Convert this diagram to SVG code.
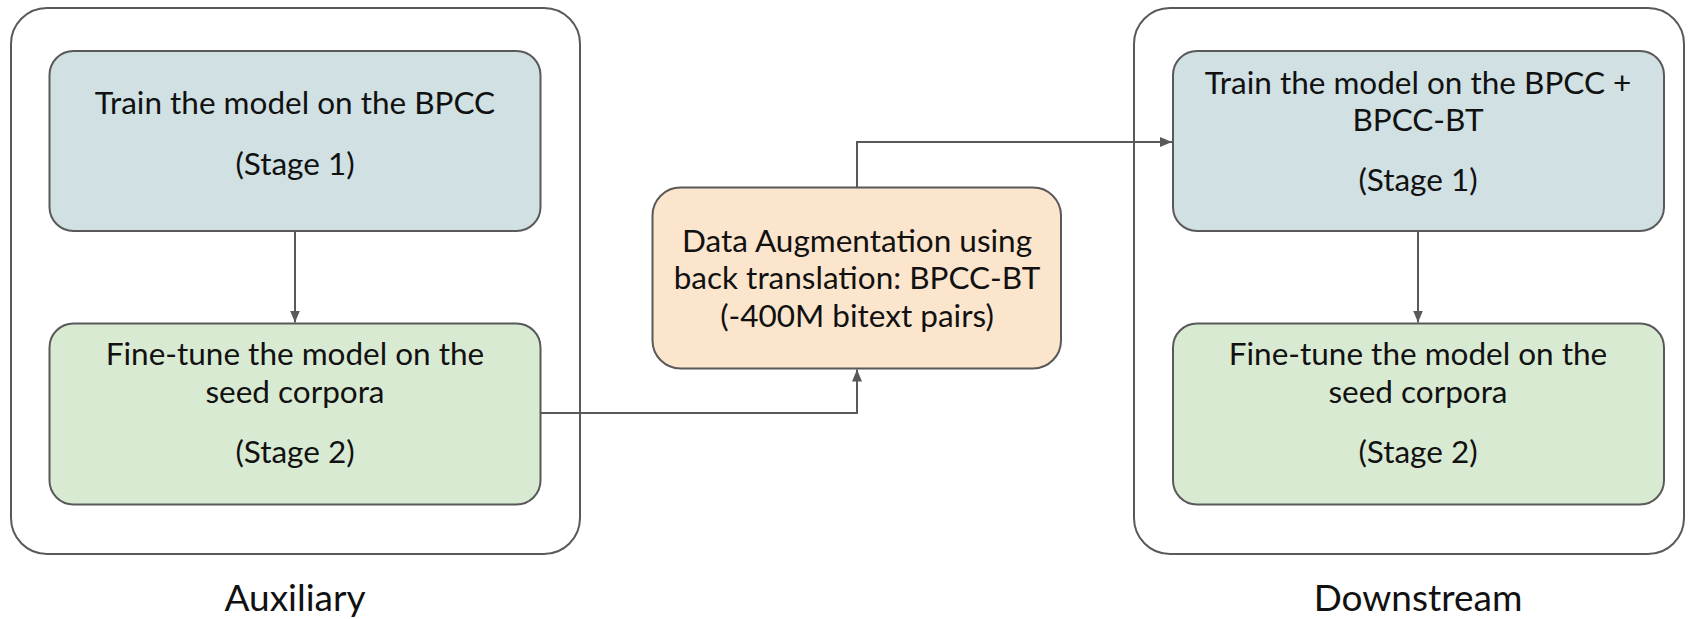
<svg xmlns="http://www.w3.org/2000/svg" width="1696" height="619" viewBox="0 0 1696 619">
  <style>
    .frame { fill: #ffffff; stroke: #595959; stroke-width: 2; }
    .box { stroke: #595959; stroke-width: 2; }
    .s1 { fill: #d0e0e3; }
    .s2 { fill: #d9ead3; }
    .aug { fill: #fce5cd; }
    .t { font-family: Lato, "Open Sans", sans-serif; font-size: 31.5px; fill: #111111; text-anchor: middle; }
    .label { font-size: 37px; }
    .edge { fill: none; stroke: #595959; stroke-width: 2; }
  </style>
  <defs>
    <marker id="arrow" markerUnits="userSpaceOnUse" markerWidth="12" markerHeight="10" refX="12" refY="5" orient="auto">
      <path d="M0,0 L12,5 L0,10 z" fill="#595959"/>
    </marker>
  </defs>
  <rect width="1696" height="619" fill="#ffffff"/>

  <!-- Auxiliary group -->
  <g id="auxiliary">
    <rect class="frame" x="11" y="8" width="569" height="546" rx="36"/>
    <text class="t label" x="295" y="611">Auxiliary</text>
  </g>
  <g id="aux-stage1">
    <rect class="box s1" x="49.5" y="51" width="491" height="180" rx="24"/>
    <text class="t" x="295" y="114">Train the model on the BPCC</text>
    <text class="t" x="295" y="175">(Stage 1)</text>
  </g>
  <g id="aux-stage2">
    <rect class="box s2" x="49.5" y="323.5" width="491" height="181" rx="24"/>
    <text class="t" x="295" y="364.5">Fine-tune the model on the</text>
    <text class="t" x="295" y="403">seed corpora</text>
    <text class="t" x="295" y="463">(Stage 2)</text>
  </g>

  <!-- Back-translation step -->
  <g id="augmentation">
    <rect class="box aug" x="652.5" y="187.5" width="408.5" height="181" rx="28"/>
    <text class="t" x="857" y="251.5">Data Augmentation using</text>
    <text class="t" x="857" y="288.5">back translation: BPCC-BT</text>
    <text class="t" x="857" y="326.5">(-400M bitext pairs)</text>
  </g>

  <!-- Downstream group -->
  <g id="downstream">
    <rect class="frame" x="1134" y="8" width="550" height="546" rx="36"/>
    <text class="t label" x="1418" y="611">Downstream</text>
  </g>
  <g id="down-stage1">
    <rect class="box s1" x="1173" y="51" width="491" height="180" rx="24"/>
    <text class="t" x="1418" y="94">Train the model on the BPCC +</text>
    <text class="t" x="1418" y="131">BPCC-BT</text>
    <text class="t" x="1418" y="191">(Stage 1)</text>
  </g>
  <g id="down-stage2">
    <rect class="box s2" x="1173" y="323.5" width="491" height="181" rx="24"/>
    <text class="t" x="1418" y="364.5">Fine-tune the model on the</text>
    <text class="t" x="1418" y="403">seed corpora</text>
    <text class="t" x="1418" y="463">(Stage 2)</text>
  </g>

  <!-- Connectors -->
  <g id="connectors">
    <path class="edge" d="M295,231 L295,322.5" marker-end="url(#arrow)"/>
    <path class="edge" d="M540.5,413 L857,413 L857,369.5" marker-end="url(#arrow)"/>
    <path class="edge" d="M857,187.5 L857,142 L1172,142" marker-end="url(#arrow)"/>
    <path class="edge" d="M1418,231 L1418,322.5" marker-end="url(#arrow)"/>
  </g>
</svg>
